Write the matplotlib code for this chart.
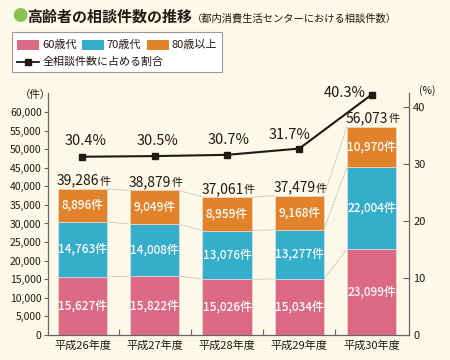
import matplotlib
matplotlib.use("Agg")
import matplotlib.pyplot as plt
import numpy as np
from matplotlib.patches import Rectangle
from matplotlib.lines import Line2D

plt.rcParams['font.family'] = ['Noto Sans CJK JP', 'DejaVu Sans']

years = ['平成26年度', '平成27年度', '平成28年度', '平成29年度', '平成30年度']
age60 = [15627, 15822, 15026, 15034, 23099]
age70 = [14763, 14008, 13076, 13277, 22004]
age80 = [8896, 9049, 8959, 9168, 10970]
totals = [39286, 38879, 37061, 37479, 56073]
ratio = [30.4, 30.5, 30.7, 31.7, 40.3]

series_names = ['60歳代', '70歳代', '80歳以上']
line_name = '全相談件数に占める割合'

BG = "#fdf9e8"
PINK = "#dd6a84"
BLUE = "#35aecb"
ORANGE = "#e2832c"
INK = "#231815"
AXC = "#666666"

fig = plt.figure(figsize=(4.5, 3.6), dpi=100)
fig.patch.set_facecolor(BG)

ax = fig.add_axes([48 / 450, 1 - 335 / 360, 361 / 450, 242 / 360])
ax.set_facecolor(BG)

x = np.arange(len(years))
w = 0.68
segs = [age60, age70, age80]
colors = [PINK, BLUE, ORANGE]
bottom = np.zeros(len(years))
for vals, c in zip(segs, colors):
    vals = np.array(vals)
    ax.bar(x, vals, w, bottom=bottom, color=c, edgecolor="#f3e3df", lw=0.4, zorder=2)
    for xi, b, v in zip(x, bottom, vals):
        ax.text(xi, b + v / 2, f"{v:,}件", color="white", fontsize=8.5, fontweight="medium",
                ha="center", va="center", zorder=3)
    bottom = bottom + vals
    # dotted connectors between neighbouring bars
    for i in range(len(years) - 1):
        ax.plot([x[i] + w / 2, x[i + 1] - w / 2], [bottom[i], bottom[i + 1]],
                color="#999999", lw=0.6, ls=(0, (1, 1)), zorder=1)

# total labels, number and a smaller 件 sharing one anchor
for xi, t in zip(x, totals):
    ax.annotate(f"{t:,}", xy=(xi, t), xytext=(12, 3), textcoords="offset points",
                ha="right", va="baseline", fontsize=10, color=INK)
    ax.annotate("件", xy=(xi, t), xytext=(12, 3), textcoords="offset points",
                ha="left", va="baseline", fontsize=8, color=INK)

ax.set_xlim(-0.4775, 4.519)
ax.set_ylim(0, 65100)
ax.set_yticks(np.arange(0, 60001, 5000))
ax.set_yticklabels([f"{v:,}" for v in range(0, 60001, 5000)])
ax.set_xticks(x)
ax.set_xticklabels(years)
ax.set_xticks(x[:-1] + 0.5, minor=True)
ax.tick_params(axis="x", which="major", length=0, pad=4, labelsize=8, labelcolor=INK)
ax.tick_params(axis="x", which="minor", direction="in", length=4, color=AXC, width=0.8)
ax.tick_params(axis="y", direction="out", length=3, color=AXC, width=0.8,
               labelsize=7.5, labelcolor=INK, pad=1.5)
for s in ["top", "right"]:
    ax.spines[s].set_visible(False)
for s in ["left", "bottom"]:
    ax.spines[s].set_color(AXC)
    ax.spines[s].set_linewidth(0.9)

# right percent axis
ax2 = ax.twinx()
ax2.set_ylim(0, 42.46)
ax2.set_yticks([0, 10, 20, 30, 40])
ax2.tick_params(axis="y", direction="in", length=4, color=AXC, width=0.8,
                labelsize=8, labelcolor=INK, pad=3)
for s in ["top", "left", "bottom"]:
    ax2.spines[s].set_visible(False)
ax2.spines["right"].set_color(AXC)
ax2.spines["right"].set_linewidth(0.9)

# ratio line (illustrative scale)
ax3 = ax.twinx()
ax3.set_ylim(1.92, 40.58)
ax3.axis("off")
ax3.plot(x, ratio, color=INK, lw=1.5, marker="s", ms=5, clip_on=False, zorder=5)
offs = [(2, 11), (2, 11), (1, 11), (-7, 9.5), (-4, 1.5)]
for xi, r, (dx, dy) in zip(x, ratio, offs):
    last = xi == x[-1]
    ax3.annotate(f"{r}%", xy=(xi, r), xytext=(dx, dy), textcoords="offset points",
                 ha="right" if last else "center", va="center", fontsize=10.5, color=INK)

fig.text(35 / 450, 1 - 95 / 360, "（件）", ha="center", va="center", fontsize=7.5, color=INK)
fig.text(427 / 450, 1 - 91 / 360, "(%)", ha="center", va="center", fontsize=7.5, color=INK)

# title
fig.text(12 / 450, 1 - 17 / 360, "●", ha="left", va="center", fontsize=11, color="#8cc152")
fig.text(27 / 450, 1 - 17 / 360, "高齢者の相談件数の推移", ha="left", va="center",
         fontsize=10.8, fontweight="bold", color=INK)
fig.text(192 / 450, 1 - 18 / 360, "（都内消費生活センターにおける相談件数）", ha="left",
         va="center", fontsize=7.4, color=INK)

# legend box
fig.patches.append(Rectangle((12 / 450, 1 - 72 / 360), 210 / 450, 40 / 360,
                             transform=fig.transFigure, facecolor="white",
                             edgecolor="#9a9a9a", lw=0.8))
lx = [17, 82, 147]
tx = [42, 106, 171]
for px, tpos, c, name in zip(lx, tx, colors, series_names):
    fig.patches.append(Rectangle((px / 450, 1 - 50 / 360), 22 / 450, 10 / 360,
                                 transform=fig.transFigure, facecolor=c, edgecolor="none"))
    fig.text(tpos / 450, 1 - 45 / 360, name, ha="left", va="center", fontsize=8, color=INK)
fig.lines.append(Line2D([17 / 450, 39 / 450], [1 - 62 / 360, 1 - 62 / 360],
                        transform=fig.transFigure, color=INK, lw=1.3))
fig.lines.append(Line2D([28 / 450], [1 - 62 / 360], transform=fig.transFigure,
                        color=INK, marker="s", ms=4.5))
fig.text(43 / 450, 1 - 62 / 360, line_name, ha="left", va="center", fontsize=7.9, color=INK)

fig.savefig("out.png", dpi=100, facecolor=BG)
